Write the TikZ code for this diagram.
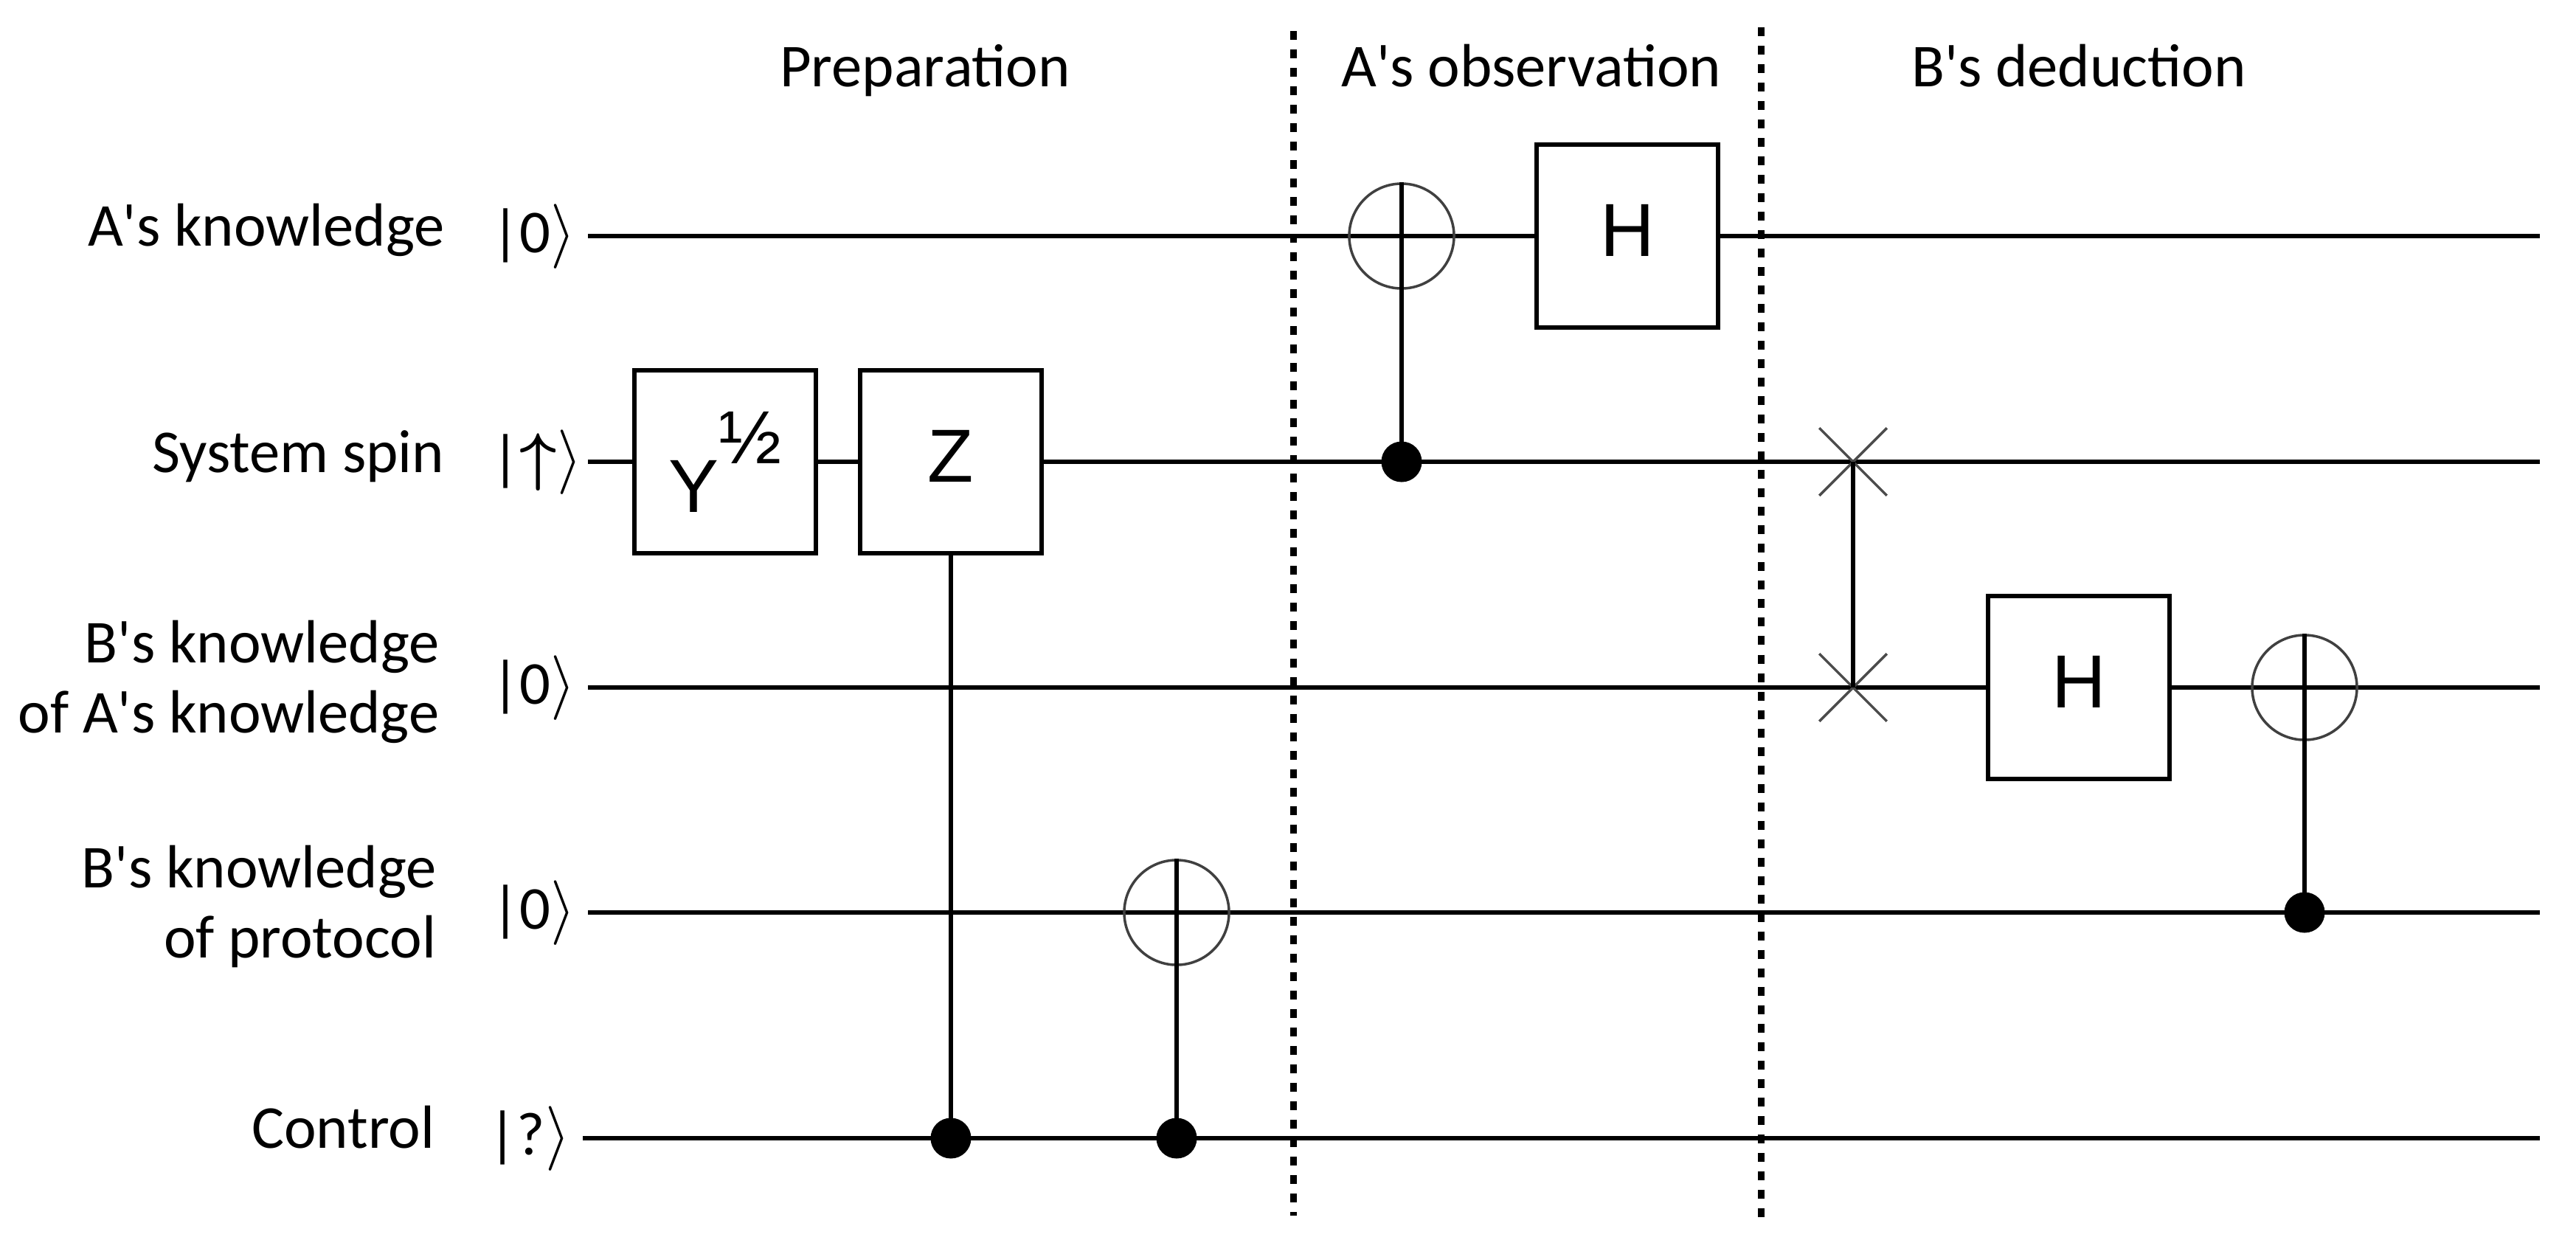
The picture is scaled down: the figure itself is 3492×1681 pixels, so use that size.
\documentclass[tikz,border=0pt]{standalone}
\usepackage{fontspec}
\setmainfont{Carlito}[Ligatures=TeXOff]
\newfontfamily\gatefont{Liberation Sans}
\usetikzlibrary{shapes.misc}
\begin{document}
\begin{tikzpicture}[x=0.01cm,y=-0.01cm,
  wire/.style={line width=0.06cm},
  ctrlline/.style={line width=0.06cm},
  sepline/.style={line width=0.09cm, dash pattern=on 0.12cm off 0.13cm},
  gate/.style={draw, line width=0.06cm, fill=white, minimum width=2.45cm, minimum height=2.48cm, inner sep=0pt, font=\gatefont\fontsize{29}{34}\selectfont},
  gatetxt/.style={text height=0.73cm, text depth=0.19cm},
  ctrldot/.style={circle, fill=black, minimum size=0.55cm, inner sep=0pt},
  oplus/.style={circle, draw=black!75, line width=0.035cm, minimum size=1.42cm, inner sep=0pt},
  swapx/.style={cross out, draw=black!70, line width=0.035cm, minimum size=0.88cm, inner sep=0pt},
  lbl/.style={font=\fontsize{23.5}{27}\selectfont, align=right, inner sep=0pt},
  ket/.style={font=\fontsize{23.5}{27}\selectfont, inner sep=0pt}
]
\useasboundingbox (0,0) rectangle (3492,1681);

% titles
\node[lbl, anchor=base] (t1) at (1254,117) {Preparation};
\node[lbl, anchor=base] (t2) at (2076,117) {A's observation};
\node[lbl, anchor=base] (t3) at (2818,117) {B's deduction};

% row labels
\node[lbl, anchor=base east] (l1) at (603,333) {A's knowledge};
\node[lbl, anchor=base east] (l2) at (603,640) {System spin};
\node[lbl, anchor=east] (l3) at (596,924) {B's knowledge\\of A's knowledge};
\node[lbl, anchor=east] (l4) at (592,1229) {B's knowledge\\of protocol};
\node[lbl, anchor=base east] (l5) at (590,1556) {Control};

% kets
\node[ket, anchor=base west] (k1) at (666,342) {|0\ensuremath{\rangle}};
\node[ket, anchor=base west] (k2) at (666,648) {|{\boldmath$\uparrow$}\ensuremath{\rangle}};
\node[ket, anchor=base west] (k3) at (666,954) {|0\ensuremath{\rangle}};
\node[ket, anchor=base west] (k4) at (666,1259) {|0\ensuremath{\rangle}};
\node[ket, anchor=base west] (k5) at (662,1565) {|?\ensuremath{\rangle}};

% wire ends
\coordinate (w1s) at (797,320);  \coordinate (w1e) at (3443,320);
\coordinate (w2s) at (797,626);  \coordinate (w2e) at (3443,626);
\coordinate (w3s) at (797,932);  \coordinate (w3e) at (3443,932);
\coordinate (w4s) at (797,1237); \coordinate (w4e) at (3443,1237);
\coordinate (w5s) at (790,1543); \coordinate (w5e) at (3443,1543);
\foreach \i in {1,...,5} {\draw[wire] (w\i s) -- (w\i e);}

% separators
\coordinate (s1t) at (1753,42);  \coordinate (s1b) at (1753,1648);
\coordinate (s2t) at (2387,37);  \coordinate (s2b) at (2387,1650);
\draw[sepline] (s1t) -- (s1b);
\draw[sepline] (s2t) -- (s2b);

% gates
\node[gate] (gy) at (983,626) {Y\raisebox{0.66cm}{½}};
\node[gate, gatetxt] (gz) at (1289,626) {Z};
\node[gate, gatetxt] (gh1) at (2206,320) {H};
\node[gate, gatetxt] (gh2) at (2818,932) {H};

% controls and targets
\node[ctrldot] (d1) at (1289,1543) {};
\draw[ctrlline] (gz.south) -- (d1.center);

\node[oplus] (o1) at (1595,1237) {};
\node[ctrldot] (d2) at (1595,1543) {};
\draw[ctrlline] (o1.north) -- (d2.center);

\node[oplus] (o2) at (1900,320) {};
\node[ctrldot] (d3) at (1900,626) {};
\draw[ctrlline] (o2.north) -- (d3.center);

\node[swapx] (x1) at (2512,626) {};
\node[swapx] (x2) at (2512,932) {};
\draw[ctrlline] (x1.center) -- (x2.center);

\node[oplus] (o3) at (3124,932) {};
\node[ctrldot] (d4) at (3124,1237) {};
\draw[ctrlline] (o3.north) -- (d4.center);
\end{tikzpicture}
\end{document}
